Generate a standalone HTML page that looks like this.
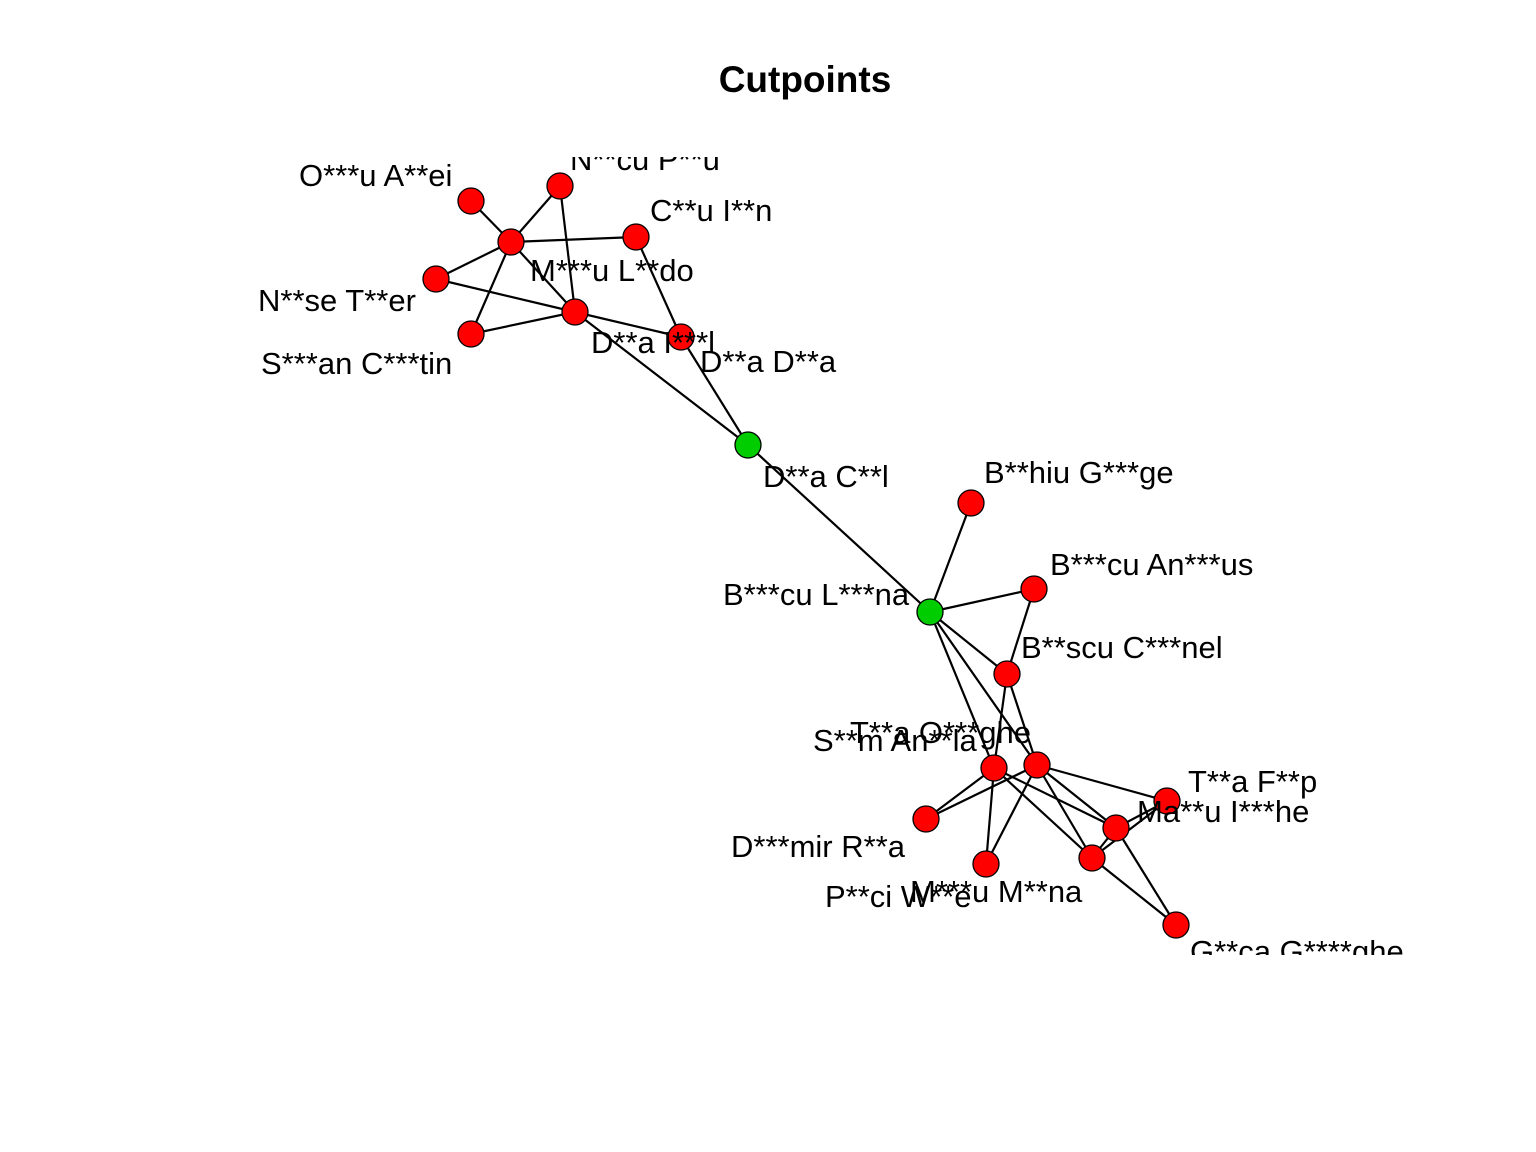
<!DOCTYPE html>
<html><head><meta charset="utf-8"><style>body{margin:0;background:#fff}svg{display:block}</style></head>
<body>
<svg id="chart" width="1536" height="1152" xmlns="http://www.w3.org/2000/svg" font-family="Liberation Sans, Arial, sans-serif">
<rect width="1536" height="1152" fill="#fff"/>
<text x="805" y="92" text-anchor="middle" font-size="37" font-weight="bold">Cutpoints</text>
<defs><clipPath id="clip"><rect x="0" y="157" width="1536" height="798"/></clipPath></defs>
<g id="plot" clip-path="url(#clip)"></g>
</svg>
<script>
const nodeNames = ["O***u A**ei","N**cu P**u","C**u I**n","M***u L**do","N**se T**er","S***an C***tin","D**a I***l","D**a D**a","D**a C**l","B***cu L***na","B**hiu G***ge","B***cu An***us","B**scu C***nel","S**m An**la","T**a O***ghe","D***mir R**a","P**ci W**e","M***u M**na","Ma**u I***he","T**a F**p","G**ca G****ghe"];
const nodeX = [471,560,636,511,436,471,575,681,748,930,971,1034,1007,994,1037,926,986,1092,1116,1167,1176];
const nodeY = [201,186,237,242,279,334,312,337,445,612,503,589,674,768,765,819,864,858,828,801,925];
const cutpoint = [0,0,0,0,0,0,0,0,1,1,0,0,0,0,0,0,0,0,0,0,0];
const labelX = [299,570,650,530,258,261,591,700,763,723,984,1050,1021,813,850,731,825,910,1137,1188,1190];
const labelY = [186,170,221,281,311,374,353,372,487,605,483,575,658,751,743,857,907,902,822,792,962];
const edgeFrom = [0,1,1,3,3,3,3,4,5,6,2,6,7,8,9,9,11,9,9,9,12,12,13,13,13,13,14,14,14,14,14,18,17,17,18,17];
const edgeTo   = [3,3,6,2,4,5,6,6,6,7,7,8,8,9,10,11,12,12,13,14,13,14,15,16,18,17,19,18,17,15,16,19,18,20,20,19];
const NS="http://www.w3.org/2000/svg";
const g=document.getElementById('plot');
for(let i=0;i<edgeFrom.length;i++){
  const l=document.createElementNS(NS,'line');
  l.setAttribute('x1',nodeX[edgeFrom[i]]);l.setAttribute('y1',nodeY[edgeFrom[i]]);
  l.setAttribute('x2',nodeX[edgeTo[i]]);l.setAttribute('y2',nodeY[edgeTo[i]]);
  l.setAttribute('stroke','#000');l.setAttribute('stroke-width','2.2');
  
  
  g.appendChild(l);
}
for(let i=0;i<nodeNames.length;i++){
  const c=document.createElementNS(NS,'circle');
  c.setAttribute('cx',nodeX[i]);c.setAttribute('cy',nodeY[i]);c.setAttribute('r','13');
  c.setAttribute('fill',cutpoint[i]?'#00CD00':'#FF0000');c.setAttribute('stroke','#000');c.setAttribute('stroke-width','1.3');
  
  
  g.appendChild(c);
}
for(let i=0;i<nodeNames.length;i++){
  const t=document.createElementNS(NS,'text');
  t.setAttribute('x',labelX[i]);t.setAttribute('y',labelY[i]);t.setAttribute('font-size','31');
  t.textContent=nodeNames[i];
  
  
  g.appendChild(t);
}
</script>
</body></html>
